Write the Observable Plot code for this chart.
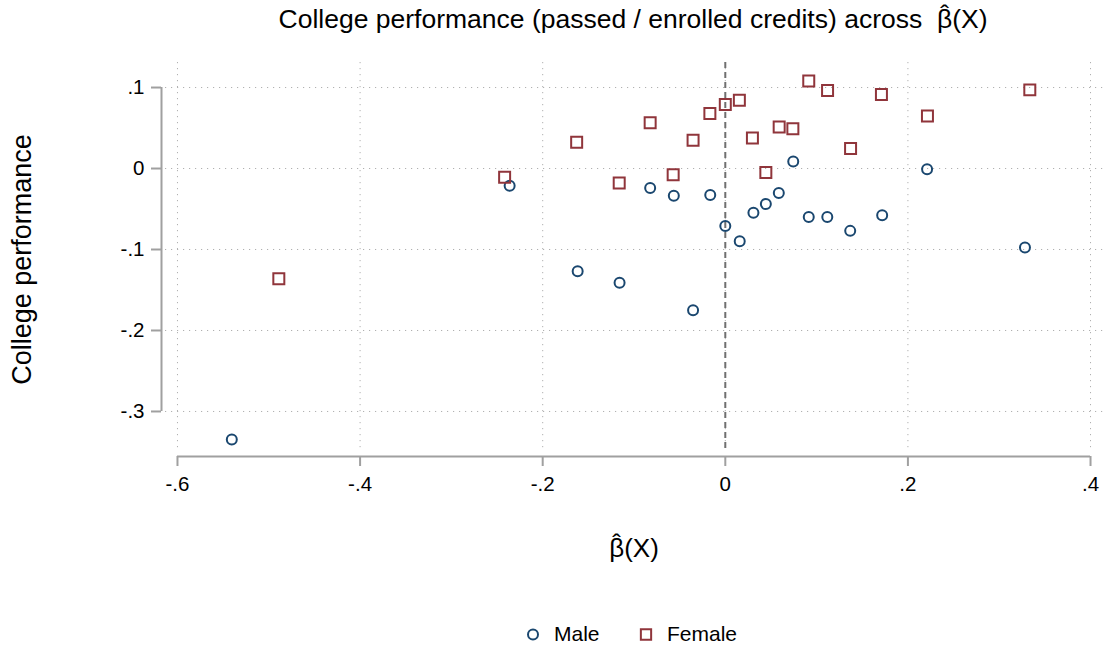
<!DOCTYPE html>
<html>
<head>
<meta charset="utf-8">
<script src="https://cdn.jsdelivr.net/npm/d3@7"></script>
<script src="https://cdn.jsdelivr.net/npm/@observablehq/plot@0.6"></script>
<style>
  html, body { margin: 0; padding: 0; background: #fff; }
  #chart svg { display: block; overflow: visible; }
</style>
</head>
<body>
<div id="chart"></div>
<script>
// ---- data ----
const maleX = [-0.5405, -0.2362, -0.1617, -0.1158, -0.0823, -0.0564, -0.0353, -0.0165, 0.0, 0.0158,
               0.0308, 0.0444, 0.0586, 0.0744, 0.0914, 0.1117, 0.1368, 0.1718, 0.2210, 0.3282];
const maleY = [-0.3346, -0.0214, -0.1270, -0.1410, -0.0242, -0.0336, -0.1750, -0.0328, -0.0709, -0.0898,
               -0.0545, -0.0439, -0.0303, 0.0086, -0.0598, -0.0598, -0.0770, -0.0578, -0.0008, -0.0975];
const femaleX = [-0.4890, -0.2417, -0.1628, -0.1162, -0.0823, -0.0571, -0.0353, -0.0169, 0.0, 0.0154,
                 0.0297, 0.0444, 0.0590, 0.0740, 0.0914, 0.1120, 0.1372, 0.1710, 0.2214, 0.3335];
const femaleY = [-0.1360, -0.0107, 0.0324, -0.0180, 0.0566, -0.0078, 0.0348, 0.0680, 0.0791, 0.0844,
                 0.0377, -0.0049, 0.0512, 0.0492, 0.1082, 0.0963, 0.0246, 0.0914, 0.0648, 0.0971];
const xTicks = [-0.6, -0.4, -0.2, 0, 0.2, 0.4];
const yTicks = [-0.3, -0.2, -0.1, 0, 0.1];
const refLineX = [0];
const legendLabels = ["Male", "Female"];
const betaSym = "\u03b2";
const betaLabel = betaSym + "(X)";   // a circumflex "hat" is drawn over the beta
const hatGlyph = "\u02c6";
const titleText = "College performance (passed / enrolled credits) across\u00a0 " + betaLabel;
const xLabel = betaLabel;
const yLabel = "College performance";

// ---- build tables ----
const male = maleX.map((x, i) => ({x, y: maleY[i]}));
const female = femaleX.map((x, i) => ({x, y: femaleY[i]}));

const FONT = "'Liberation Sans', Arial, Helvetica, sans-serif";
const navy = "#1a476f";
const maroon = "#90353b";
const axisGray = "#a0a0a0";
const fmt = d => d === 0 ? "0" : d3.format(".1f")(d).replace("0.", ".").replace("\u2212", "-");

// text measuring for hat placement
const ctx = document.createElement("canvas").getContext("2d");
function textWidth(s, size) { ctx.font = `${size}px ${FONT}`; return ctx.measureText(s).width; }

const titleSize = 26.5, xLabelSize = 26, yLabelSize = 27, tickSize = 20.5, legendSize = 21;
const W = 1106, mL = 161, mR = 0;
const frameCx = mL + (W - mL - mR) / 2;
const titleEnd = 987;                                   // right end of the title, px
const titleDx = titleEnd - frameCx;
const titleHatDx = titleDx - textWidth(betaLabel, titleSize) + textWidth(betaSym, titleSize) / 2;
const xLabHatDx = -textWidth(betaLabel, xLabelSize) / 2 + textWidth(betaSym, xLabelSize) / 2;
const titleDy = -43, xLabDy = 92;

const chart = Plot.plot({
  width: W,
  height: 650,
  marginLeft: mL,
  marginRight: mR,
  marginTop: 62,
  marginBottom: 194,
  style: {fontFamily: FONT, background: "#fff", color: "#000"},
  x: {domain: [-0.6175, 0.4175]},
  y: {domain: [-0.3556, 0.1309]},
  marks: [
    // grid
    Plot.ruleY(yTicks, {stroke: "#b0b0b0", strokeWidth: 1, strokeDasharray: "1.2,4.8", insetLeft: 4}),
    Plot.ruleX(xTicks, {stroke: "#b0b0b0", strokeWidth: 1, strokeDasharray: "1.2,4.8", insetBottom: 6}),
    // reference line at 0
    Plot.ruleX(refLineX, {stroke: "#707070", strokeWidth: 2, strokeDasharray: "6,4", insetBottom: 5}),
    // axis lines
    Plot.ruleY([-0.3556], {x1: xTicks[0], x2: xTicks[xTicks.length - 1], stroke: axisGray, strokeWidth: 2}),
    Plot.ruleX([-0.6175], {y1: yTicks[0], y2: yTicks[yTicks.length - 1], stroke: axisGray, strokeWidth: 2}),
    // axes
    Plot.axisX(xTicks, {anchor: "bottom", label: null, tickSize: 10, tickPadding: 10, tickFormat: fmt, fontSize: tickSize,
                        stroke: axisGray, strokeWidth: 2, fill: "#000"}),
    Plot.axisY(yTicks, {anchor: "left", label: null, tickSize: 10, tickPadding: 7, tickFormat: fmt, fontSize: tickSize,
                        stroke: axisGray, strokeWidth: 2, fill: "#000"}),
    // data
    Plot.dot(male, {x: "x", y: "y", symbol: "circle", r: 5, stroke: navy, strokeWidth: 2, fill: "none"}),
    Plot.dot(female, {x: "x", y: "y", symbol: "square", r: 6.2, stroke: maroon, strokeWidth: 2, fill: "none"}),
    // title
    Plot.text([titleText], {text: d => d, frameAnchor: "top", dx: titleDx, dy: titleDy, textAnchor: "end",
                            fontSize: titleSize, lineAnchor: "middle", fill: "#000"}),
    Plot.text([hatGlyph], {text: d => d, frameAnchor: "top", dx: titleHatDx, dy: titleDy - 5, textAnchor: "middle",
                           fontSize: titleSize, lineAnchor: "middle", fill: "#000"}),
    // axis titles
    Plot.text([yLabel], {text: d => d, frameAnchor: "left", dx: -139, rotate: -90, textAnchor: "middle",
                         fontSize: yLabelSize, lineAnchor: "middle", fill: "#000"}),
    Plot.text([xLabel], {text: d => d, frameAnchor: "bottom", dy: xLabDy, textAnchor: "middle",
                         fontSize: xLabelSize, lineAnchor: "middle", fill: "#000"}),
    Plot.text([hatGlyph], {text: d => d, frameAnchor: "bottom", dx: xLabHatDx, dy: xLabDy - 5, textAnchor: "middle",
                           fontSize: xLabelSize, lineAnchor: "middle", fill: "#000"}),
    // legend
    Plot.dot([legendLabels[0]], {frameAnchor: "bottom", dx: -101, dy: 178, symbol: "circle", r: 5, stroke: navy, strokeWidth: 2, fill: "none"}),
    Plot.text([legendLabels[0]], {text: d => d, frameAnchor: "bottom", dx: -80, dy: 178, textAnchor: "start", fontSize: legendSize, lineAnchor: "middle", fill: "#000"}),
    Plot.dot([legendLabels[1]], {frameAnchor: "bottom", dx: 12, dy: 178, symbol: "square", r: 5.8, stroke: maroon, strokeWidth: 2, fill: "none"}),
    Plot.text([legendLabels[1]], {text: d => d, frameAnchor: "bottom", dx: 33, dy: 178, textAnchor: "start", fontSize: legendSize, lineAnchor: "middle", fill: "#000"})
  ]
});
document.getElementById("chart").appendChild(chart);
</script>
</body>
</html>
